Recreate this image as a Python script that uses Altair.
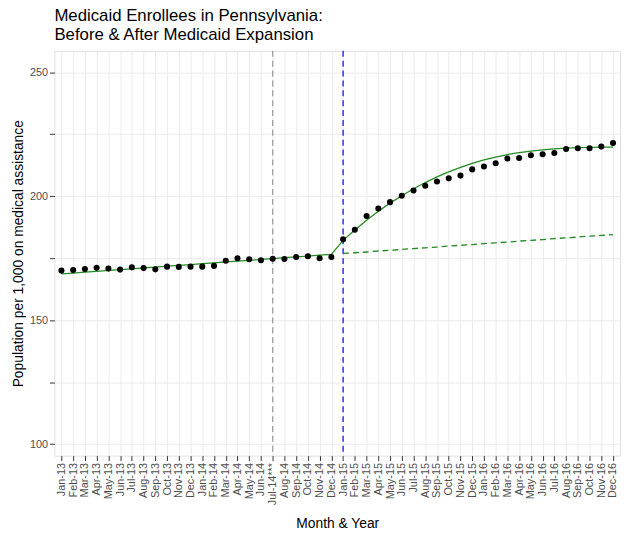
import pandas as pd
import altair as alt

months = ['Jan', 'Feb', 'Mar', 'Apr', 'May', 'Jun', 'Jul', 'Aug', 'Sep', 'Oct', 'Nov', 'Dec']
years = ['13', '14', '15', '16']
labels = [f'{m}-{y}' for y in years for m in months]
labels[18] = 'Jul-14***'

enrollees = [170.0, 170.2, 170.6, 171.1, 170.8, 170.4, 171.3, 171.0, 170.5, 171.6, 171.5, 171.6,
             171.6, 171.9, 174.0, 175.0, 174.6, 174.2, 174.8, 174.7, 175.5, 175.8, 175.0, 175.5,
             182.6, 186.5, 192.0, 195.0, 197.6, 200.2, 202.3, 204.2, 205.9, 207.2, 208.3, 210.8,
             212.0, 213.3, 215.2, 215.4, 216.5, 216.9, 217.4, 219.0, 219.3, 219.3, 220.0, 221.4]

fitted = [168.7, 169.0, 169.4, 169.7, 170.1, 170.4, 170.7, 171.1, 171.4, 171.8, 172.1, 172.4,
          172.8, 173.1, 173.5, 173.8, 174.1, 174.5, 174.8, 175.2, 175.5, 175.8, 176.2, 176.5,
          182.2, 186.4, 190.3, 193.9, 197.2, 200.2, 203.0, 205.5, 207.8, 209.8, 211.6, 213.2,
          214.6, 215.8, 216.8, 217.6, 218.2, 218.7, 219.1, 219.4, 219.6, 219.7, 219.8, 219.8]

counterfactual = [176.9, 177.2, 177.5, 177.9, 178.2, 178.5, 178.9, 179.2, 179.5, 179.9, 180.2, 180.5,
                  180.9, 181.2, 181.5, 181.9, 182.2, 182.5, 182.9, 183.2, 183.5, 183.9, 184.2, 184.5]

df = pd.DataFrame({'month': labels, 'enrollees': enrollees, 'fitted': fitted})
cf = pd.DataFrame({'month': labels[24:], 'counterfactual': counterfactual})
vlines = pd.DataFrame({'month': ['Jul-14***', 'Jan-15'], 'kind': ['grey', 'blue']})

x = alt.X('month:N', sort=labels,
          scale=alt.Scale(type='point', padding=0.6, domain=labels),
          axis=alt.Axis(title='Month & Year', labelAngle=-90, labelColor='#4d4d4d',
                        labelFontSize=11, titleFontSize=14, titleColor='black',
                        titleFontWeight='normal', titlePadding=12, grid=True,
                        gridColor='#ebebeb', tickColor='#333333', domain=False))
y_scale = alt.Scale(domain=[95.4, 258.6], nice=False, zero=False)
y_axis = alt.Axis(title='Population per 1,000 on medical assistance',
                  values=[100, 125, 150, 175, 200, 225, 250],
                  labelExpr="datum.value % 50 == 0 ? datum.label : ''",
                  labelColor='#4d4d4d', labelFontSize=11, titleFontSize=14,
                  titleColor='black', titleFontWeight='normal', gridColor='#ebebeb',
                  tickColor='#333333', domain=False)

base = alt.Chart(df)
points = base.mark_circle(color='black', size=38, opacity=1).encode(
    x=x, y=alt.Y('enrollees:Q', scale=y_scale, axis=y_axis))
fit_line = base.mark_line(color='#228B22', strokeWidth=1.3).encode(
    x=x, y=alt.Y('fitted:Q', scale=y_scale))
cf_line = alt.Chart(cf).mark_line(color='#228B22', strokeWidth=1.3, strokeDash=[6, 4]).encode(
    x=x, y=alt.Y('counterfactual:Q', scale=y_scale))
rules = alt.Chart(vlines).mark_rule(strokeDash=[6, 4], strokeWidth=1.2).encode(
    x=x,
    color=alt.Color('kind:N', scale=alt.Scale(domain=['grey', 'blue'], range=['#999999', 'blue']),
                    legend=None))

chart = alt.layer(rules, fit_line, cf_line, points).properties(
    width=573, height=410,
    autosize='none',
    padding={'left': 47, 'top': 40, 'right': 6, 'bottom': 77},
    title=alt.Title(['Medicaid Enrollees in Pennsylvania:', 'Before & After Medicaid Expansion'],
                    anchor='start', frame='group', fontSize=17, fontWeight='normal',
                    color='black', offset=6, lineHeight=20),
).configure_view(stroke='#333333', strokeWidth=1).configure(font='Liberation Sans')

chart.save("out.html", embed_options={"renderer": "svg", "actions": False})
